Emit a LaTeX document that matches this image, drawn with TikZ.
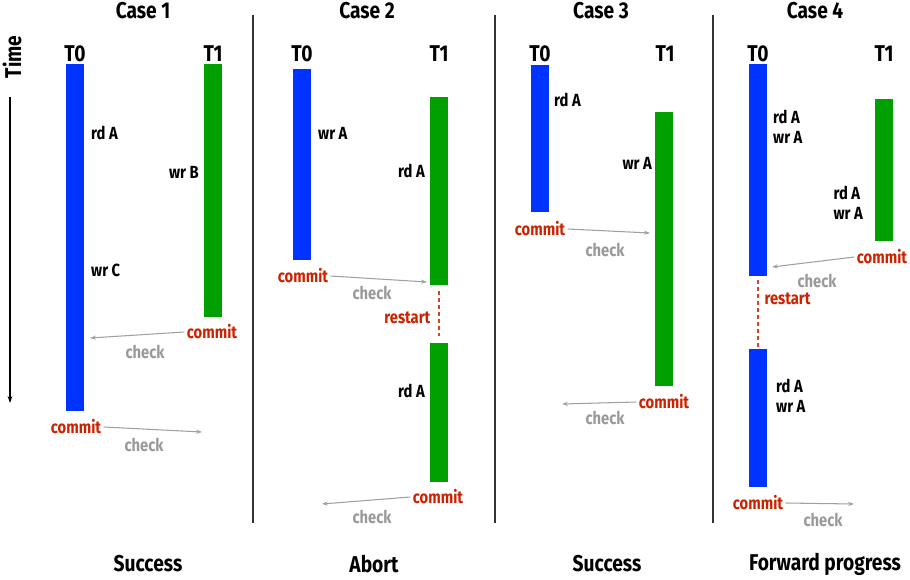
\documentclass[tikz,border=0pt]{standalone}
\usepackage{fontspec}
\setmainfont{Fira Sans}[FakeStretch=0.84]
\usetikzlibrary{arrows.meta,fit}
\definecolor{tblue}{HTML}{0033FF}
\definecolor{tgreen}{HTML}{00A000}
\definecolor{cred}{HTML}{CC2200}
\definecolor{cgray}{HTML}{999999}
\definecolor{agray}{HTML}{A0A0A0}

\begin{document}
\begin{tikzpicture}[
    x=0.03cm, y=-0.03cm,
    every node/.style={font=\bfseries\fontsize{15}{17}\selectfont},
    heading/.style={font=\bfseries\fontsize{19.5}{21}\selectfont},
    bar/.style={inner sep=0pt, outer sep=0pt},
    tzero/.style={bar, fill=tblue},
    tone/.style={bar, fill=tgreen},
    oplbl/.style={align=left, inner sep=0pt},
    commitlbl/.style={text=cred, inner sep=2pt},
    checklbl/.style={text=cgray},
    checkline/.style={-{Stealth[length=5pt,width=3.5pt]}, agray, line width=0.9pt},
    restartline/.style={cred!85, line width=1.8pt, dash pattern=on 3.5pt off 2.5pt},
    divider/.style={line width=1.2pt, black!80}
]
    \useasboundingbox (0,0) rectangle (910,579);

    % time axis and case separators
    \node[heading, rotate=90] (time) at (12,57) {Time};
    \coordinate (timetop) at (10,97);
    \coordinate (timebot) at (10,403);
    \draw[-{Stealth[length=6pt,width=4pt]}, line width=1pt] (timetop) -- (timebot);
    \draw[divider] (253,15) -- (253,523);
    \draw[divider] (495,15) -- (495,523);
    \draw[divider] (713,15) -- (713,523);

    % Case 1
    \node[heading] (case1) at (143,11) {Case 1};
    \node[heading] (c1t0lbl) at (75,54) {T0};
    \node[heading] (c1t1lbl) at (213,54) {T1};
    \node[tzero, fit={(66,64) (84,411)}] (c1t0) {};
    \node[tone, fit={(204,64) (222,317)}] (c1t1) {};
    \node[oplbl, anchor=west] (c1rda) at (91,133) {rd A};
    \node[oplbl, anchor=east] (c1wrb) at (199,172) {wr B};
    \node[oplbl, anchor=west] (c1wrc) at (91,270) {wr C};
    \node[commitlbl] (c1commit1) at (212,332) {commit};
    \coordinate (c1hit1) at (90,338);
    \draw[checkline] (c1commit1.west) -- (c1hit1);
    \node[checklbl] (c1check1) at (145,352) {check};
    \node[commitlbl] (c1commit0) at (76,427) {commit};
    \coordinate (c1hit0) at (202,432);
    \draw[checkline] (c1commit0.east) -- (c1hit0);
    \node[checklbl] (c1check0) at (144,445) {check};
    \node[heading] (res1) at (148,564) {Success};

    % Case 2
    \node[heading] (case2) at (367,11) {Case 2};
    \node[heading] (c2t0lbl) at (302,54) {T0};
    \node[heading] (c2t1lbl) at (439,54) {T1};
    \node[tzero, fit={(293,69) (311,260)}] (c2t0) {};
    \node[tone, fit={(430,97) (448,285)}] (c2t1a) {};
    \node[tone, fit={(430,343) (448,482)}] (c2t1b) {};
    \node[oplbl, anchor=west] (c2wra) at (318,133) {wr A};
    \node[oplbl, anchor=east] (c2rda) at (425,171) {rd A};
    \node[commitlbl] (c2commit0) at (303,276) {commit};
    \coordinate (c2hit0) at (427,282);
    \draw[checkline] (c2commit0.east) -- (c2hit0);
    \node[checklbl] (c2check0) at (372,293) {check};
    \draw[restartline, shorten <=5pt, shorten >=6pt] (c2t1a.south) -- (c2t1b.north);
    \node[commitlbl, anchor=east] (c2restart) at (433,318) {restart};
    \node[oplbl, anchor=east] (c2rdb) at (425,391) {rd A};
    \node[commitlbl] (c2commit1) at (438,497) {commit};
    \coordinate (c2hit1) at (322,504);
    \draw[checkline] (c2commit1.west) -- (c2hit1);
    \node[checklbl] (c2check1) at (372,517) {check};
    \node[heading] (res2) at (374,564) {Abort};

    % Case 3
    \node[heading] (case3) at (601,11) {Case 3};
    \node[heading] (c3t0lbl) at (540,54) {T0};
    \node[heading] (c3t1lbl) at (665,54) {T1};
    \node[tzero, fit={(531,65) (549,212)}] (c3t0) {};
    \node[tone, fit={(655,112) (673,386)}] (c3t1) {};
    \node[oplbl, anchor=west] (c3rda) at (554,100) {rd A};
    \node[oplbl, anchor=east] (c3wra) at (652,163) {wr A};
    \node[commitlbl] (c3commit0) at (540,229) {commit};
    \coordinate (c3hit0) at (650,233);
    \draw[checkline] (c3commit0.east) -- (c3hit0);
    \node[checklbl] (c3check0) at (605,250) {check};
    \node[commitlbl] (c3commit1) at (664,402) {commit};
    \coordinate (c3hit1) at (562,404);
    \draw[checkline] (c3commit1.west) -- (c3hit1);
    \node[checklbl] (c3check1) at (605,418) {check};
    \node[heading] (res3) at (607,564) {Success};

    % Case 4
    \node[heading] (case4) at (815,11) {Case 4};
    \node[heading] (c4t0lbl) at (758,54) {T0};
    \node[heading] (c4t1lbl) at (884,54) {T1};
    \node[tzero, fit={(749,64) (767,276)}] (c4t0a) {};
    \node[tone, fit={(875,99) (893,241)}] (c4t1) {};
    \node[tzero, fit={(749,349) (767,487)}] (c4t0b) {};
    \node[oplbl, anchor=west] (c4opa) at (773,127) {rd A\\wr A};
    \node[oplbl, anchor=east] (c4opb) at (863,203) {rd A\\wr A};
    \node[commitlbl] (c4commit1) at (882,257) {commit};
    \coordinate (c4hit1) at (772,267);
    \draw[checkline] (c4commit1.west) -- (c4hit1);
    \node[checklbl] (c4check1) at (817,281) {check};
    \draw[restartline, shorten <=3pt, shorten >=1pt] (c4t0a.south) -- (c4t0b.north);
    \node[commitlbl, anchor=west] (c4restart) at (762,299) {restart};
    \node[oplbl, anchor=west] (c4opc) at (776,396) {rd A\\wr A};
    \node[commitlbl] (c4commit0) at (758,503) {commit};
    \coordinate (c4hit0) at (854,504);
    \draw[checkline] (c4commit0.east) -- (c4hit0);
    \node[checklbl] (c4check0) at (823,520) {check};
    \node[heading] (res4) at (825,564) {Forward progress};
\end{tikzpicture}
\end{document}
